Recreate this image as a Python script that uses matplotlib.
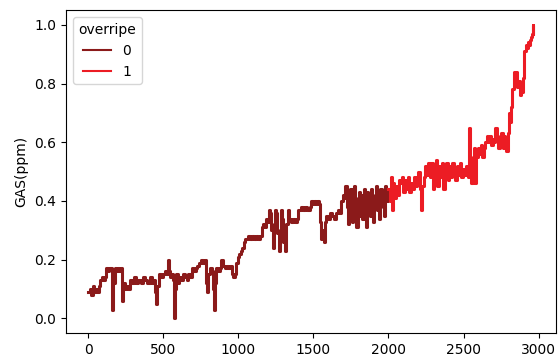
import matplotlib
matplotlib.use("Agg")
import matplotlib.pyplot as plt

# overripe = 0 (dark red part)
x0 = [0, 10, 20, 30, 40, 50, 60, 70, 80, 90,
      100, 110, 120, 130, 140, 150, 156, 162, 168, 178,
      188, 198, 208, 218, 223, 228, 234, 244, 254, 264,
      277, 290, 305, 320, 335, 350, 365, 380, 395, 410,
      425, 440, 448, 455, 462, 472, 485, 500, 512, 522,
      532, 540, 548, 556, 564, 569, 573, 578, 588, 598,
      608, 620, 632, 644, 656, 668, 680, 692, 704, 716,
      728, 740, 752, 764, 776, 784, 792, 800, 812, 824,
      832, 837, 842, 852, 864, 876, 887, 898, 910, 922,
      934, 946, 956, 966, 976, 986, 996, 1006, 1016, 1026,
      1036, 1048, 1062, 1076, 1090, 1104, 1118, 1132, 1146, 1156,
      1166, 1176, 1186, 1196, 1204, 1212, 1220, 1228, 1236, 1244,
      1252, 1260, 1268, 1276, 1284, 1292, 1300, 1310, 1320, 1330,
      1340, 1352, 1364, 1376, 1388, 1400, 1415, 1430, 1445, 1460,
      1475, 1485, 1495, 1505, 1515, 1525, 1535, 1545, 1552, 1560,
      1568, 1576, 1585, 1598, 1612, 1626, 1640, 1654, 1666, 1676,
      1686, 1696, 1706, 1714, 1722, 1730, 1738, 1746, 1754, 1762,
      1770, 1778, 1786, 1794, 1802, 1810, 1818, 1826, 1834, 1842,
      1850, 1858, 1866, 1874, 1882, 1890, 1898, 1906, 1914, 1922,
      1930, 1938, 1946, 1954, 1962, 1970, 1978, 1986, 1994, 2000]
y0 = [.09, .10, .08, .11, .09, .10, .09, .11, .13, .14,
      .13, .14, .17, .16, .17, .17, .10, .03, .12, .17,
      .16, .17, .16, .17, .12, .06, .12, .10, .11, .10,
      .13, .12, .14, .12, .13, .12, .14, .13, .12, .14,
      .12, .13, .09, .05, .11, .15, .14, .15, .16, .15,
      .20, .16, .14, .15, .13, .07, .00, .10, .15, .12,
      .14, .13, .15, .14, .13, .15, .14, .17, .16, .17,
      .18, .19, .20, .19, .20, .12, .09, .15, .17, .16,
      .10, .03, .12, .17, .16, .17, .20, .18, .17, .18,
      .17, .18, .15, .14, .15, .19, .21, .22, .23, .24,
      .26, .27, .28, .27, .28, .27, .28, .27, .28, .31,
      .32, .31, .34, .33, .37, .36, .30, .24, .32, .37,
      .36, .29, .23, .30, .37, .34, .26, .23, .32, .37,
      .34, .33, .34, .33, .34, .37, .38, .37, .38, .37,
      .38, .40, .39, .40, .39, .40, .39, .33, .27, .30,
      .26, .33, .35, .34, .36, .35, .34, .36, .37, .36,
      .40, .42, .41, .45, .38, .32, .43, .44, .33, .42,
      .45, .36, .31, .41, .43, .35, .42, .34, .44, .42,
      .31, .43, .41, .35, .44, .42, .33, .41, .45, .37,
      .42, .34, .44, .41, .38, .35, .45, .40, .42, .44]

# overripe = 1 (red part)
x1 = [2000, 2008, 2016, 2024, 2032, 2040, 2050, 2060, 2070, 2080,
      2090, 2100, 2110, 2120, 2130, 2140, 2150, 2160, 2170, 2180,
      2190, 2200, 2208, 2216, 2224, 2234, 2244, 2254, 2264, 2274,
      2284, 2294, 2304, 2314, 2324, 2334, 2344, 2354, 2364, 2374,
      2384, 2394, 2404, 2414, 2424, 2434, 2444, 2454, 2464, 2474,
      2484, 2494, 2504, 2514, 2524, 2532, 2538, 2544, 2552, 2560,
      2568, 2576, 2584, 2594, 2604, 2614, 2624, 2634, 2644, 2654,
      2664, 2674, 2684, 2694, 2704, 2712, 2720, 2730, 2740, 2750,
      2760, 2770, 2778, 2786, 2794, 2802, 2810, 2818, 2826, 2834,
      2842, 2850, 2858, 2866, 2874, 2882, 2890, 2898, 2906, 2914,
      2922, 2930, 2938, 2946, 2952, 2958, 2962, 2966]
y1 = [.44, .40, .48, .37, .46, .41, .45, .42, .47, .46,
      .48, .43, .47, .44, .48, .43, .46, .44, .48, .45,
      .48, .50, .44, .37, .45, .48, .52, .49, .53, .48,
      .53, .44, .52, .54, .45, .52, .48, .53, .44, .50,
      .53, .47, .52, .48, .53, .50, .47, .52, .49, .53,
      .48, .51, .49, .52, .50, .48, .65, .50, .46, .55,
      .58, .46, .55, .58, .56, .59, .55, .58, .60, .62,
      .60, .62, .59, .61, .60, .65, .62, .58, .61, .63,
      .58, .62, .60, .57, .63, .70, .67, .72, .78, .84,
      .82, .84, .79, .81, .76, .80, .77, .82, .91, .93,
      .92, .94, .93, .95, .96, .97, 1.0, .97]

colors = {"0": "#8b1a1a", "1": "#ec1c24"}

fig = plt.figure(figsize=(5.58, 3.64), dpi=100)
ax = fig.add_axes([0.118, 0.085, 0.878, 0.887])

ax.plot(x0, y0, color=colors["0"], lw=2.2, drawstyle="steps-post", label="0")
ax.plot(x1, y1, color=colors["1"], lw=2.2, drawstyle="steps-post", label="1")

ax.set_xticks([0, 500, 1000, 1500, 2000, 2500, 3000])
ax.set_yticks([0.0, 0.2, 0.4, 0.6, 0.8, 1.0])
ax.set_ylabel("GAS(ppm)")
leg = ax.legend(title="overripe", loc="upper left")
for h in leg.get_lines():
    h.set_linewidth(1.5)

fig.savefig("out.png", dpi=100)
